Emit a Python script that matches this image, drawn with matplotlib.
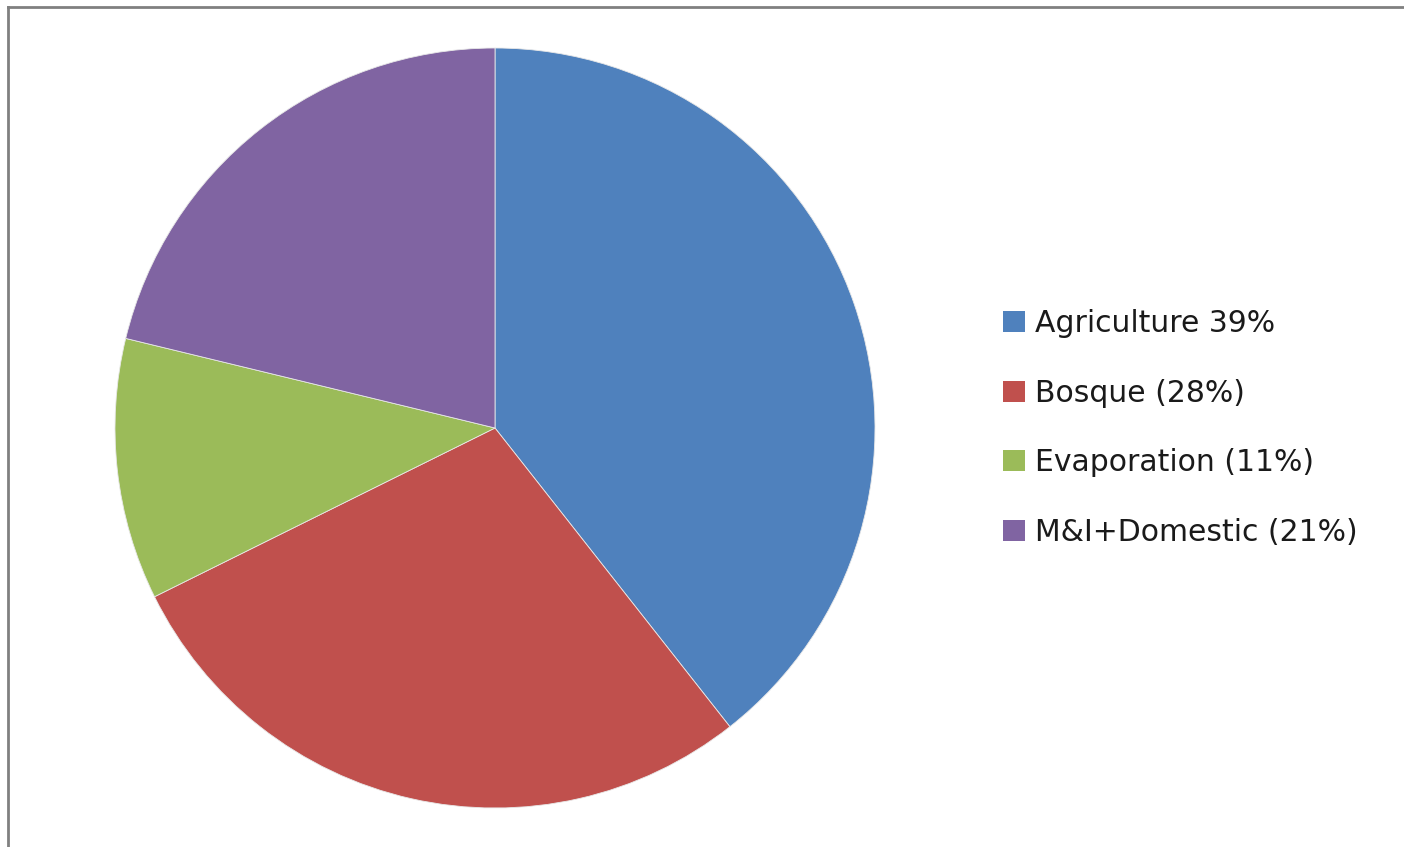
import matplotlib
matplotlib.use("Agg")
import matplotlib.pyplot as plt
from matplotlib.lines import Line2D
from matplotlib.patches import Patch

labels = ["Agriculture 39%", "Bosque (28%)", "Evaporation (11%)", "M&I+Domestic (21%)"]
values = [39, 28, 11, 21]
colors = ["#4F81BD", "#C0504D", "#9BBB59", "#8064A2"]

W, H = 1404, 847
fig = plt.figure(figsize=(W / 100, H / 100), dpi=100)
fig.patch.set_facecolor("white")

cx, cy, r = 495, 428, 380
ax = fig.add_axes([(cx - r) / W, (H - cy - r) / H, 2 * r / W, 2 * r / H])
ax.pie(values, colors=colors, startangle=90, counterclock=False,
       wedgeprops=dict(edgecolor="#e8e8e8", linewidth=0.6))
ax.set_xlim(-1, 1)
ax.set_ylim(-1, 1)
ax.set_aspect("equal")
ax.axis("off")

fs = 21.5
handles = [Patch(facecolor=c, edgecolor="none") for c in colors]
leg = fig.legend(handles, labels, loc="upper left",
                 bbox_to_anchor=(1003 / W, 1 - 309 / H),
                 frameon=False,
                 prop={"family": "DejaVu Sans", "size": fs},
                 handlelength=0.72, handleheight=0.72, handletextpad=0.36,
                 labelspacing=1.36, borderaxespad=0, borderpad=0)
for t in leg.get_texts():
    t.set_color("#1a1a1a")

# gray frame on top and left
fig.add_artist(Line2D([8 / W, 8 / W], [0, 1 - 7 / H], transform=fig.transFigure,
                      color="#808080", linewidth=2))
fig.add_artist(Line2D([8 / W, 1], [1 - 7 / H, 1 - 7 / H], transform=fig.transFigure,
                      color="#808080", linewidth=2))

fig.savefig("out.png", dpi=100, facecolor="white")
